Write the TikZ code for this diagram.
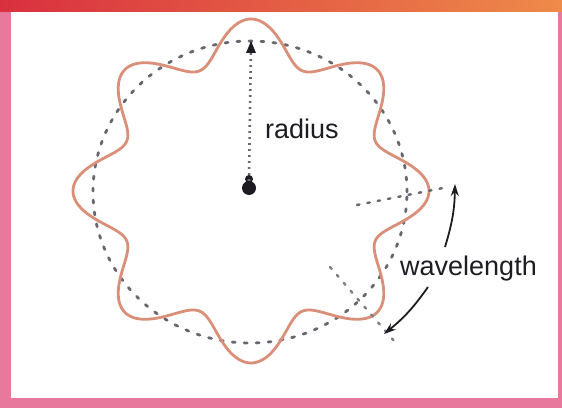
\documentclass[tikz,border=0pt]{standalone}
\usepackage{fontspec}
\setmainfont{Liberation Sans}
\usetikzlibrary{arrows.meta}
\definecolor{wavecol}{HTML}{D98F78}
\definecolor{dotcol}{HTML}{6A6670}
\definecolor{ink}{HTML}{1E1C22}
\definecolor{framepink}{HTML}{E8789C}
\definecolor{framered}{HTML}{D9303F}
\definecolor{frameorange}{HTML}{EE8A4A}
\tikzset{
  wavestyle/.style={draw=wavecol, line width=2.8pt, line join=round},
  dotcirc/.style={draw=dotcol, line width=2.8pt, dash pattern=on 3pt off 9pt, line cap=round},
  raddots/.style={draw=dotcol, line width=2.6pt, dash pattern=on 1.6pt off 4.4pt},
  guidedots/.style={draw=dotcol, line width=2.4pt, dash pattern=on 2.5pt off 8pt, line cap=round},
  warrow/.style={draw=ink, line width=1.8pt, -{Stealth[length=12pt,width=8pt]}},
  lbl/.style={font=\fontsize{27}{30}\selectfont, text=ink, inner sep=0pt}
}
\begin{document}
\begin{tikzpicture}[x=1pt,y=1pt]
\useasboundingbox (0,0) rectangle (562,408);
% frame
\fill[framepink] (0,0) rectangle (562,408);
\shade[left color=framered, right color=frameorange] (0,396) rectangle (562,408);
\fill[white] (11,10) rectangle (558,396);
% dotted reference circle
\draw[dotcirc] (250,216) ellipse [x radius=157pt, y radius=151pt];
% standing wave
\draw[wavestyle] plot[domain=0:359,samples=360,smooth cycle]
  ({251+1.035*(151+21*cos(8*\x))*cos(\x)},{217+(151+21*cos(8*\x))*sin(\x)});
% center and radius
\node[circle, fill=ink, inner sep=0pt, minimum size=14pt] (c) at (249,220) {};
\fill[ink] (249,229) circle (4pt);
\coordinate (rtop) at (251,367);
\draw[raddots] (c.north) -- (rtop);
\draw[draw=none, fill=ink] (rtop) -- ++(-5,-12) -- ++(10,0) -- cycle;
\node[lbl, anchor=base west] (rad) at (265,270) {radius};
% wavelength guides
\coordinate (w1a) at (357,203);
\coordinate (w1b) at (443,220);
\coordinate (w2a) at (330,141);
\coordinate (w2b) at (395,66);
\draw[guidedots] (w1a) -- (w1b);
\draw[guidedots, draw=dotcol!85] (w2a) -- (w2b);
\node[lbl, anchor=base west] (wl) at (400,133) {wavelength};
\coordinate (a1s) at (445,161);
\coordinate (a1e) at (455,224);
\coordinate (a2s) at (428,121);
\coordinate (a2e) at (384,74);
\draw[warrow] (a1s) to[bend right=8] (a1e);
\draw[warrow] (a2s) to[bend left=8] (a2e);
\end{tikzpicture}
\end{document}
